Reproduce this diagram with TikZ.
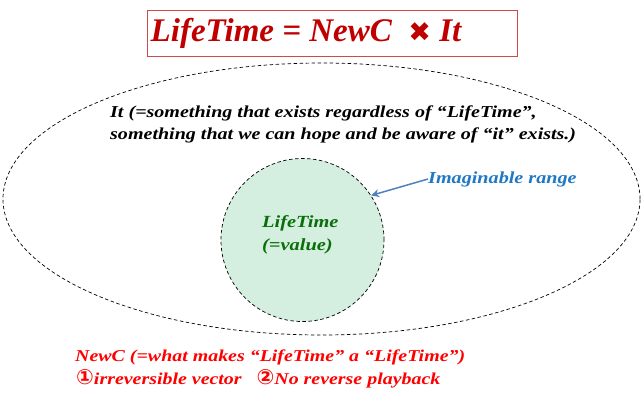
\documentclass[tikz,border=0pt]{standalone}
\usepackage{fontspec}
\setmainfont{Liberation Serif}
\newfontfamily\widefont[FakeStretch=1.2]{Liberation Serif}
\newfontfamily\symfont{DejaVu Sans}
\usetikzlibrary{arrows.meta,positioning,shapes.geometric}
\definecolor{titlered}{HTML}{C00000}
\definecolor{boxred}{HTML}{D04848}
\definecolor{brightred}{HTML}{FF0000}
\definecolor{rangeblue}{HTML}{1F78C4}
\definecolor{arrowblue}{HTML}{4F81BD}
\definecolor{valgreen}{HTML}{0A6E0A}
\definecolor{valfill}{HTML}{D4EFDF}

\begin{document}
\begin{tikzpicture}[x=1pt, y=-1pt,
  note/.style={align=left, inner sep=0pt},
  zone/.style={draw, dashed, dash pattern=on 3.5pt off 2.5pt, line width=0.7pt},
  arr/.style={-{Stealth[length=8pt,width=8pt]}, line width=1.5pt, arrowblue}
]
  \useasboundingbox (0,0) rectangle (643,392);

  % formula box
  \node[draw=boxred, line width=0.8pt, minimum width=370pt, minimum height=46pt,
        inner sep=0pt, text=titlered, font=\fontsize{33}{36}\selectfont\bfseries\itshape]
        (formula) at (332,33) {\hspace*{-52pt}LifeTime = NewC \ {\symfont\fontsize{27}{30}\selectfont ✖} It};

  % regions
  \node[zone, ellipse, minimum width=637pt, minimum height=272pt] (world) at (321.5,199) {};
  \node[zone, circle, fill=valfill, minimum size=163pt] (blob) at (302.5,240) {};

  % texts
  \node[note, anchor=north west, font=\widefont\fontsize{16.7}{22}\selectfont\bfseries\itshape]
        (it) at (110,106) {It (=something that exists regardless of “LifeTime”,\\
        something that we can hope and be aware of “it” exists.)};
  \node[note, text=valgreen, anchor=north west, font=\widefont\fontsize{17}{23}\selectfont\bfseries\itshape]
        (value) at (262,215) {LifeTime\\(=value)};
  \node[note, text=rangeblue, anchor=west, font=\widefont\fontsize{16.8}{21}\selectfont\bfseries\itshape]
        (range) at (428,179) {Imaginable range};
  \draw[arr] (range.west) -- (blob.33);

  \node[note, text=brightred, anchor=north west, font=\widefont\fontsize{16.6}{23}\selectfont\bfseries\itshape]
        (newc) at (75,350) {NewC (=what makes “LifeTime” a “LifeTime”)\\
        \hspace*{1pt}{\symfont\bfseries\fontsize{21}{23}\selectfont ①}irreversible vector \ \ {\symfont\bfseries\fontsize{21}{23}\selectfont ②}No reverse playback};
\end{tikzpicture}
\end{document}
